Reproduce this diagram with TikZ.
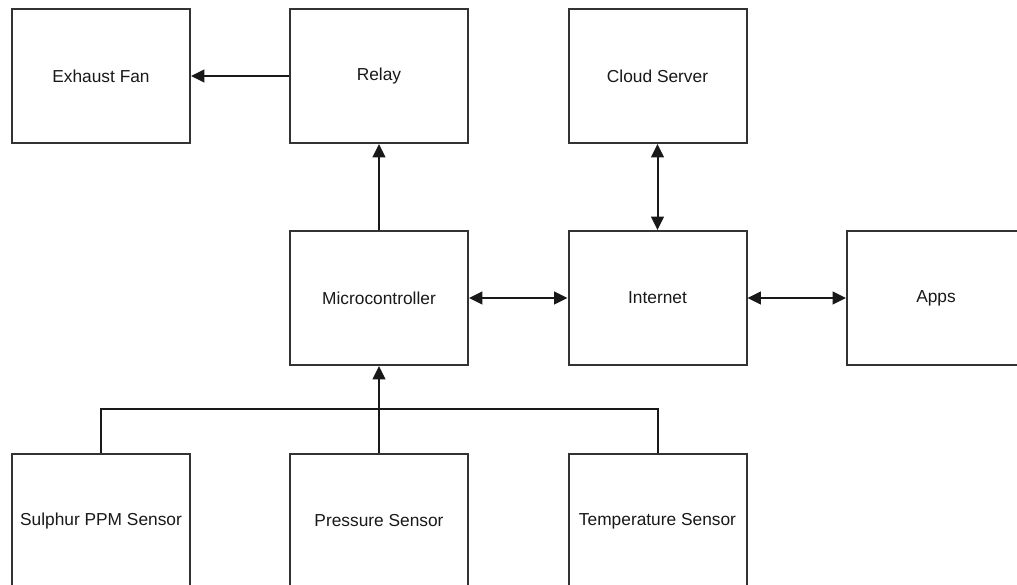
\documentclass[tikz,border=0pt]{standalone}
\usepackage{fontspec}
\setmainfont{Liberation Sans}
\usetikzlibrary{arrows.meta}
\tikzset{
  block/.style={draw=black!80, line width=1.5pt, fill=white,
    minimum width=133.5pt, minimum height=100.5pt, inner sep=0pt,
    font=\fontsize{13pt}{15pt}\selectfont, text=black!90},
  link/.style={draw=black!90, line width=1.5pt},
  tip/.style={-{Triangle[length=10pt,width=9.5pt]}},
  both/.style={{Triangle[length=10pt,width=9.5pt]}-{Triangle[length=10pt,width=9.5pt]}}
}
\begin{document}
\begin{tikzpicture}[x=0.75pt,y=-0.75pt]
  \useasboundingbox (0,0) rectangle (1017,585);
  \clip (0,0) rectangle (1017,585);
  % top row
  \node[block] (fan)    at (101,76)    {Exhaust Fan};
  \node[block] (relay)  at (379,76)    {Relay};
  \node[block] (cloud)  at (657.5,76)  {Cloud Server};
  % middle row
  \node[block] (mcu)    at (379,298)   {Microcontroller};
  \node[block] (net)    at (657.5,298) {Internet};
  \node[block] (apps)   at (936,298)   {Apps};
  % sensors
  \node[block] (sulphur) at (101,521)   {Sulphur PPM Sensor};
  \node[block] (press)   at (379,521)   {Pressure Sensor};
  \node[block] (temp)    at (657.5,521) {Temperature Sensor};
  \coordinate (busL) at (101,409);
  \coordinate (busR) at (657.5,409);
  % connectors
  \draw[link,tip] (relay.west) -- (fan.east);
  \draw[link,tip] (mcu.north) -- (relay.south);
  \draw[link,both] (mcu.east) -- (net.west);
  \draw[link,both] (net.east) -- (apps.west);
  \draw[link,both] (net.north) -- (cloud.south);
  \draw[link] (sulphur.north) -- (busL) -- (busR) -- (temp.north);
  \draw[link,tip] (press.north) -- (mcu.south);
\end{tikzpicture}
\end{document}
